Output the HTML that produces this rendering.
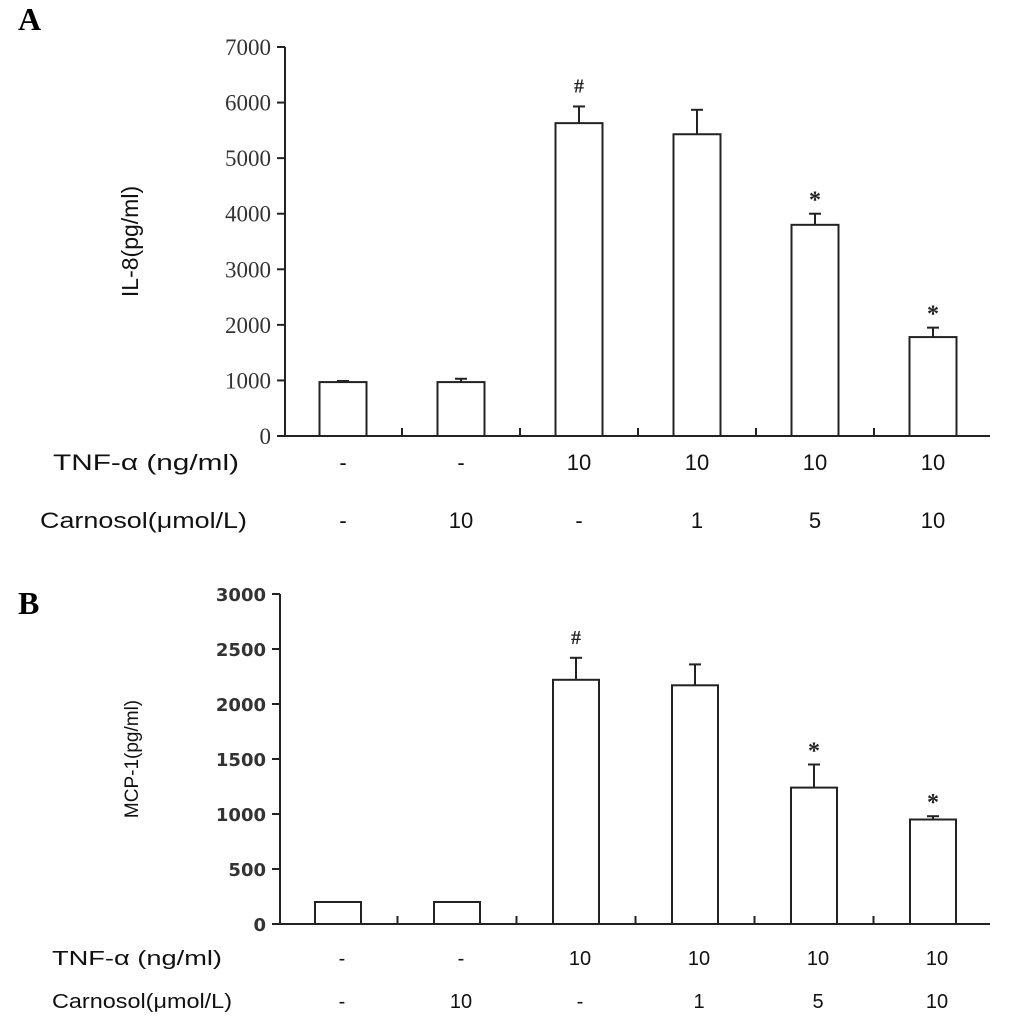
<!DOCTYPE html>
<html><head><meta charset="utf-8"><style>
body{margin:0;background:#fff;}
svg{display:block;font-family:"Liberation Sans",sans-serif;}
</style></head><body>
<svg id="c" width="1033" height="1031" viewBox="0 0 1033 1031">
<text x="18" y="30" font-family="Liberation Serif,serif" font-weight="bold" font-size="32">A</text>
<text x="18" y="614" font-family="Liberation Serif,serif" font-weight="bold" font-size="32">B</text>
<g id="ga"></g>
<g id="gb"></g>
</svg>
<script>
const tnfLabels = ["-","-","10","10","10","10"];
const carnosolLabels = ["-","10","-","1","5","10"];
const il8Values = [970,970,5630,5430,3800,1780];
const il8Err = [20,60,300,440,200,170];
const il8Marks = ["","","#","","*","*"];
const il8Ticks = [0,1000,2000,3000,4000,5000,6000,7000];
const mcpValues = [200,200,2220,2170,1240,950];
const mcpErr = [0,0,200,190,210,30];
const mcpMarks = ["","","#","","*","*"];
const mcpTicks = [0,500,1000,1500,2000,2500,3000];

const NS="http://www.w3.org/2000/svg";
function mk(parent,tag,attrs,text){const e=document.createElementNS(NS,tag);for(const k in attrs)e.setAttribute(k,attrs[k]);if(text!==undefined)e.textContent=text;parent.appendChild(e);return e;}

function panel(g,cfg){
  const y=v=>cfg.y0-(v/cfg.max)*(cfg.y0-cfg.yTop);
  const x=i=>cfg.x0+cfg.step*i;
  let e=mk(g,'line',{x1:cfg.ax,y1:cfg.yTop,x2:cfg.ax,y2:cfg.y0,stroke:'#222','stroke-width':2});
  
  e=mk(g,'line',{x1:cfg.ax-8,y1:cfg.y0,x2:cfg.xEnd,y2:cfg.y0,stroke:'#222','stroke-width':2});
  
  cfg.ticks.forEach(t=>{
    let l=mk(g,'line',{x1:cfg.ax-8,y1:y(t),x2:cfg.ax,y2:y(t),stroke:'#222','stroke-width':2});
    
    let tx=mk(g,'text',{x:cfg.ax-14,y:y(t)+cfg.tickDy,'text-anchor':'end','font-size':cfg.tickFont,fill:'#333','font-family':cfg.tickFamily,'font-weight':cfg.tickWeight},t);
    
  });
  for(let i=1;i<cfg.values.length;i++){
    const sx=(x(i-1)+x(i))/2;
    let l=mk(g,'line',{x1:sx,y1:cfg.y0-8,x2:sx,y2:cfg.y0,stroke:'#222','stroke-width':2});
    
  }
  cfg.values.forEach((v,i)=>{
    const cx=x(i),w=cfg.bw;
    if(cfg.err[i]>0){
      let el=mk(g,'line',{x1:cx,y1:y(v),x2:cx,y2:y(v+cfg.err[i]),stroke:'#222','stroke-width':2});
      
      let ec=mk(g,'line',{x1:cx-6,y1:y(v+cfg.err[i]),x2:cx+6,y2:y(v+cfg.err[i]),stroke:'#222','stroke-width':2});
      
    }
    let r=mk(g,'rect',{x:cx-w/2,y:y(v),width:w,height:cfg.y0-y(v),fill:'#fff',stroke:'#222','stroke-width':2});
    
    if(cfg.marks[i]){
      const top=y(v+cfg.err[i]);
      let m=mk(g,'text',{x:cx,y:top-(cfg.marks[i]=='#'?14:6),'text-anchor':'middle','font-size':cfg.marks[i]=='#'?20:24,'font-weight':'bold','font-family':'Liberation Serif,serif',fill:'#222'},cfg.marks[i]);
      
    }
    let t1=mk(g,'text',{x:cx+cfg.lblDx,y:cfg.row1,'text-anchor':'middle','font-size':cfg.rowFont,fill:'#111'},tnfLabels[i]);
    
    let t2=mk(g,'text',{x:cx+cfg.lblDx,y:cfg.row2,'text-anchor':'middle','font-size':cfg.rowFont,fill:'#111'},carnosolLabels[i]);
    
  });
  let a=mk(g,'text',{x:cfg.rowX,y:cfg.row1,'font-size':cfg.rowFont,fill:'#111',textLength:cfg.len1,lengthAdjust:'spacingAndGlyphs'},'TNF-\u03b1 (ng/ml)');
  
  let b=mk(g,'text',{x:cfg.rowX2,y:cfg.row2,'font-size':cfg.rowFont,fill:'#111',textLength:cfg.len2,lengthAdjust:'spacingAndGlyphs'},'Carnosol(\u03bcmol/L)');
  
  let yt=mk(g,'text',{x:0,y:0,'font-size':cfg.ytFont,fill:'#111','text-anchor':'middle',transform:`translate(${cfg.ytX},${(cfg.y0+cfg.yTop)/2}) rotate(-90)`},cfg.ytitle);
  
}
panel(document.getElementById('ga'),{values:il8Values,err:il8Err,marks:il8Marks,ticks:il8Ticks,max:7000,
  ax:285,y0:436,yTop:47,x0:343,step:118,bw:47,xEnd:990,tickFont:23,tickDy:8,tickWeight:'normal',tickFamily:'Liberation Serif,serif',
  row1:470,row2:528,rowFont:22,rowX:53,rowX2:40,len1:186,len2:207,lblDx:0,ytitle:'IL-8(pg/ml)',ytX:138,ytFont:23});
panel(document.getElementById('gb'),{values:mcpValues,err:mcpErr,marks:mcpMarks,ticks:mcpTicks,max:3000,
  ax:280,y0:924,yTop:594,x0:338,step:119,bw:46,xEnd:990,tickFont:18,tickDy:7,tickWeight:'bold',tickFamily:'DejaVu Sans,sans-serif',
  row1:965,row2:1008,rowFont:20,rowX:52,rowX2:52,len1:170,len2:180,lblDx:4,ytitle:'MCP-1(pg/ml)',ytX:138,ytFont:19});
</script>
</body></html>
